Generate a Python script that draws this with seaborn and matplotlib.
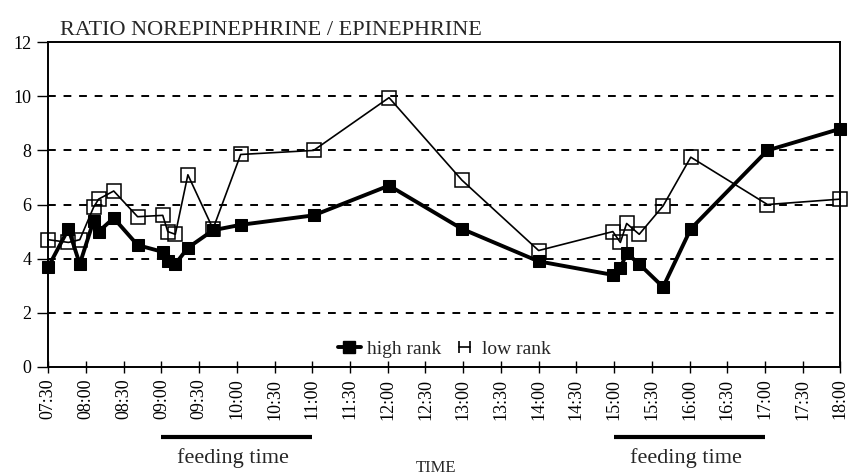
import matplotlib
matplotlib.use("Agg")
import matplotlib.pyplot as plt
from matplotlib.lines import Line2D
from matplotlib.legend_handler import HandlerLine2D
import seaborn as sns
import pandas as pd

# sampling times (same for both groups)
times = ["07:30", "07:46", "07:55", "08:06", "08:10", "08:22", "08:41", "09:01",
         "09:05", "09:11", "09:21", "09:41", "10:03", "11:01", "12:01", "12:59",
         "14:00", "14:59", "15:05", "15:10", "15:20", "15:39", "16:01", "17:02",
         "18:00"]
high_rank = [3.7, 5.1, 3.8, 5.4, 5.0, 5.5, 4.5, 4.25, 3.9, 3.8, 4.4, 5.05, 5.25,
             5.6, 6.7, 5.1, 3.9, 3.4, 3.65, 4.2, 3.8, 2.95, 5.1, 8.0, 8.8]
low_rank = [4.7, 4.6, 4.7, 5.9, 6.2, 6.5, 5.55, 5.6, 5.0, 4.9, 7.1, 5.1, 7.85,
            8.0, 9.95, 6.9, 4.3, 5.0, 4.6, 5.3, 4.9, 5.95, 7.75, 6.0, 6.2]

tick_labels = ["07:30", "08:00", "08:30", "09:00", "09:30", "10:00", "10:30",
               "11:00", "11:30", "12:00", "12:30", "13:00", "13:30", "14:00",
               "14:30", "15:00", "15:30", "16:00", "16:30", "17:00", "17:30",
               "18:00"]
feeding_periods = [("09:00", "11:00"), ("15:00", "17:00")]


def to_hours(s):
    h, m = s.split(":")
    return int(h) + int(m) / 60.0


df = pd.DataFrame({
    "hour": [to_hours(t) for t in times],
    "high": high_rank,
    "low": low_rank,
})

sns.set_theme(style="white")
plt.rcParams["font.family"] = ["Liberation Serif", "DejaVu Serif"]

fig = plt.figure(figsize=(8.48, 4.74), dpi=100)
ax = fig.add_axes([0.057, 0.226, 0.934, 0.685])

# dashed reference lines
for yv in [2, 4, 6, 8, 10]:
    ax.axhline(yv, color="black", lw=1.4, linestyle=(0, (4, 4)), zorder=1)

sns.lineplot(data=df, x="hour", y="low", ax=ax, color="black", lw=1.2,
             marker="s", markersize=10, markerfacecolor="none",
             markeredgecolor="black", markeredgewidth=1.1, clip_on=False,
             zorder=3)
sns.lineplot(data=df, x="hour", y="high", ax=ax, color="black", lw=2.8,
             marker="s", markersize=8.5, markerfacecolor="black",
             markeredgecolor="black", clip_on=False, zorder=4)

ax.set_xlim(7.5, 18.0)
ax.set_ylim(0, 12)
ax.set_yticks(range(0, 13, 2))
ax.set_xticks([to_hours(t) for t in tick_labels])
ax.set_xticklabels(tick_labels, rotation=90)
ax.set_xlabel("")
ax.set_ylabel("")
ax.tick_params(axis="y", direction="out", length=8, width=1, pad=4,
               labelsize=13, colors="black", left=True)
ax.tick_params(axis="x", direction="inout", length=9, width=1, pad=4,
               labelsize=13, colors="black", bottom=True)
for sp in ax.spines.values():
    sp.set_color("black")
    sp.set_linewidth(1.4)

# legend
h_high = Line2D([], [], color="black", lw=2.8, marker="s", markersize=8)
h_low = Line2D([], [], color="black", lw=1.2, marker="|", markersize=9,
               markeredgewidth=1.2)
ax.legend([h_high, h_low], ["high rank", "low rank"], loc="center",
          bbox_to_anchor=(0.5, 0.055), ncol=2, frameon=False, fontsize=14,
          handlelength=1.2, handletextpad=0.3, columnspacing=0.6,
          handler_map={h_high: HandlerLine2D(numpoints=1),
                       h_low: HandlerLine2D(numpoints=2)})

# feeding time bars below the axis
xform = ax.get_xaxis_transform()
for start, end in feeding_periods:
    x0, x1 = to_hours(start), to_hours(end)
    ax.plot([x0, x1], [-0.215, -0.215], color="black", lw=3, transform=xform,
            clip_on=False, solid_capstyle="butt")
    ax.text((x0 + x1) / 2 - 0.05, -0.28, "feeding time", transform=xform,
            ha="center", va="center", fontsize=16)

ax.text(0.489, -0.31, "TIME", transform=ax.transAxes, ha="center",
        va="center", fontsize=12)
fig.text(0.071, 0.935, "RATIO NOREPINEPHRINE / EPINEPHRINE", ha="left",
         va="center", fontsize=16)

fig.savefig("out.png", dpi=100)
